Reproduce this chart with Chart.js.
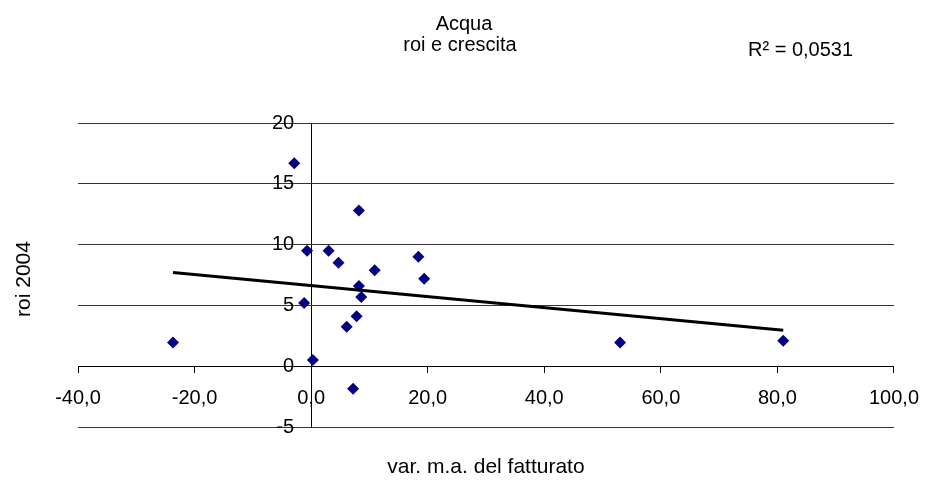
<!DOCTYPE html>
<html><head><meta charset="utf-8">
<script src="https://cdn.jsdelivr.net/npm/chart.js@4/dist/chart.umd.min.js"></script>
<style>html,body{margin:0;padding:0;background:#fff}#wrap{width:933px;height:481px}</style>
</head><body><div id="wrap"><canvas id="c" width="933" height="481"></canvas></div>
<script>
// ---- data ----
const chartTitle = ['Acqua', 'roi e crescita'];
const xAxisTitle = 'var. m.a. del fatturato';
const yAxisTitle = 'roi 2004';
const rSquaredLabel = 'R\u00B2 = 0,0531';
const growthX = [-23.7, -2.9, -0.7, -1.2, 0.3, 3.0, 4.7, 8.2, 10.9, 8.2, 8.6, 7.8, 6.1, 7.2, 18.4, 19.4, 53.0, 81.0];
const roiY    = [1.95, 16.7, 9.5, 5.2, 0.5, 9.5, 8.5, 12.8, 7.9, 6.6, 5.7, 4.1, 3.25, -1.85, 9.0, 7.2, 1.95, 2.1];
const trendX = [-23.7, 81.0];
const trendY = [7.7, 2.95];
const xTicks = [-40, -20, 0, 20, 40, 60, 80, 100];
const yTicks = [-5, 0, 5, 10, 15, 20];

const FONT = "'Liberation Sans', Arial, sans-serif";

const points = growthX.map((x, i) => ({x: x, y: roiY[i]}));
const trend = trendX.map((x, i) => ({x: x, y: trendY[i]}));

const textPlugin = {
  id: 'texts',
  afterDraw(chart) {
    const ctx = chart.ctx;
    const a = chart.chartArea;
    ctx.save();
    ctx.fillStyle = '#000';
    ctx.font = '20px ' + FONT;
    ctx.textBaseline = 'alphabetic';
    ctx.textAlign = 'center';
    ctx.fillText(chartTitle[0], 464, 30);
    ctx.fillText(chartTitle[1], 460, 51);
    ctx.textAlign = 'left';
    ctx.fillText(rSquaredLabel, 748, 56);
    ctx.textAlign = 'center';
    ctx.font = '21px ' + FONT;
    ctx.fillText(xAxisTitle, (a.left + a.right) / 2, 473);
    ctx.translate(30, (a.top + a.bottom) / 2 + 4);
    ctx.rotate(-Math.PI / 2);
    ctx.fillText(yAxisTitle, 0, 0);
    ctx.restore();
  }
};

new Chart(document.getElementById('c'), {
  type: 'scatter',
  data: {
    datasets: [
      {
        type: 'line',
        data: trend,
        borderColor: '#000',
        borderWidth: 3,
        pointRadius: 0,
        fill: false,
        showLine: true
      },
      {
        data: points,
        pointStyle: 'rectRot',
        pointRadius: 6,
        pointHoverRadius: 6,
        backgroundColor: '#000080',
        borderColor: '#000080',
        borderWidth: 0
      }
    ]
  },
  options: {
    responsive: false,
    animation: false,
    devicePixelRatio: 1,
    layout: {padding: {left: 78, right: 37, top: 123, bottom: 54}},
    plugins: {legend: {display: false}, title: {display: false}, tooltip: {enabled: false}},
    scales: {
      x: {
        type: 'linear',
        position: {y: 0},
        min: -40, max: 100,
        afterBuildTicks: s => { s.ticks = xTicks.map(v => ({value: v})); },
        ticks: {
          color: '#000',
          font: {family: FONT, size: 20},
          padding: 14,
          maxRotation: 0,
          autoSkip: false,
          callback: v => v.toFixed(1).replace('.', ',')
        },
        grid: {
          drawOnChartArea: true,
          drawTicks: true,
          tickLength: 6,
          color: c => (c.tick && c.tick.value === 0) ? '#000' : 'rgba(0,0,0,0)',
          tickColor: '#000'
        },
        border: {display: true, color: '#000', width: 1}
      },
      y: {
        type: 'linear',
        position: {x: -2.9},
        min: -5, max: 20,
        afterBuildTicks: s => { s.ticks = yTicks.map(v => ({value: v})); },
        ticks: {
          color: '#000',
          font: {family: FONT, size: 20},
          autoSkip: false,
          callback: v => String(v)
        },
        grid: {color: '#333', lineWidth: 1, drawTicks: false},
        border: {display: false}
      }
    }
  },
  plugins: [textPlugin]
});
</script>
</body></html>
